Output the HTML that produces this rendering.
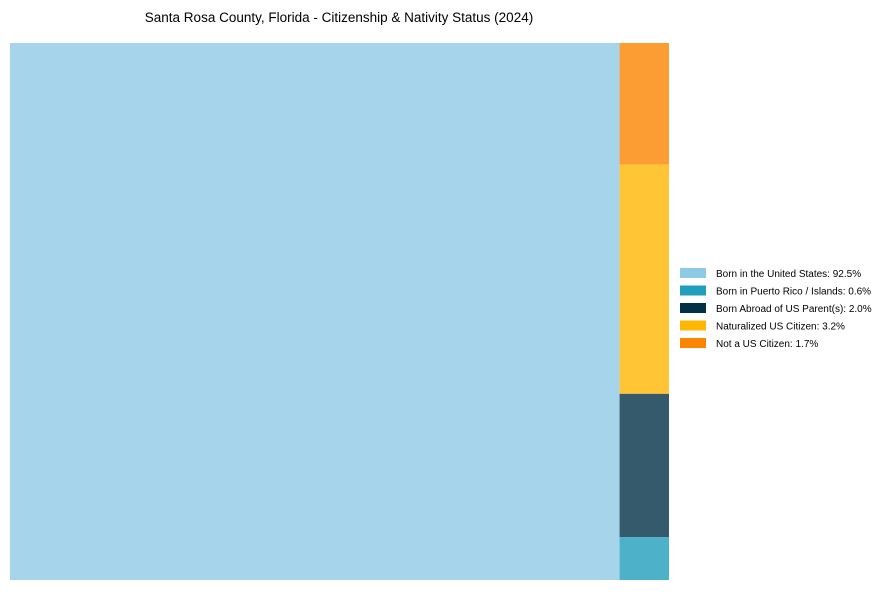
<!DOCTYPE html>
<html><head><meta charset="utf-8"><style>
body{margin:0;background:#fff;font-family:"Liberation Sans",Arial,sans-serif;}
</style></head><body>
<svg width="889" height="590" xmlns="http://www.w3.org/2000/svg">
<text x="339" y="22" text-anchor="middle" font-size="13.5" fill="#000">Santa Rosa County, Florida - Citizenship &amp; Nativity Status (2024)</text>
<g id="tiles"></g>
<g id="legend"></g>
</svg>
<script>
const categories=["Born in the United States","Born in Puerto Rico / Islands","Born Abroad of US Parent(s)","Naturalized US Citizen","Not a US Citizen"];
const values=[92.5,0.6,2.0,3.2,1.7];
const colors=["#8ecae6","#219ebc","#023047","#ffb703","#fb8500"];
const fills=["#a6d4ea","#4db1c9","#355a6c","#ffc535","#fc9d33"];
const X0=10,Y0=43,W=659,H=537;
const NS="http://www.w3.org/2000/svg";
const tiles=document.getElementById('tiles');
const total=values.reduce((a,b)=>a+b,0);
function rect(x,y,w,h,fill,name){
  const r=document.createElementNS(NS,'rect');
  r.setAttribute('x',x);r.setAttribute('y',y);r.setAttribute('width',w);r.setAttribute('height',h);r.setAttribute('fill',fill);
  
  
  tiles.appendChild(r);
}
// main tile
const mainW=W*values[0]/total;
rect(X0,Y0,mainW,H,fills[0],'tile-born-in-us');
// right column, top to bottom order
const order=[4,3,2,1];
const rest=order.reduce((a,i)=>a+values[i],0);
let y=Y0;
const names=['tile-us','tile-puerto-rico','tile-born-abroad','tile-naturalized','tile-not-citizen'];
order.forEach(i=>{const h=H*values[i]/rest;rect(X0+mainW,y,W-mainW,h,fills[i],names[i]);y+=h;});
const lg=document.getElementById('legend');
categories.forEach((c,i)=>{
  const yy=268+i*17.5;
  const g=document.createElementNS(NS,'g');
  
  
  const s=document.createElementNS(NS,'rect');
  s.setAttribute('x',680);s.setAttribute('y',yy);s.setAttribute('width',26);s.setAttribute('height',10);s.setAttribute('fill',colors[i]);
  const t=document.createElementNS(NS,'text');
  t.setAttribute('x',716);t.setAttribute('y',yy+9);t.setAttribute('font-size','10');
  t.textContent=c+': '+values[i].toFixed(1)+'%';
  g.appendChild(s);g.appendChild(t);lg.appendChild(g);
});
</script>
</body></html>
